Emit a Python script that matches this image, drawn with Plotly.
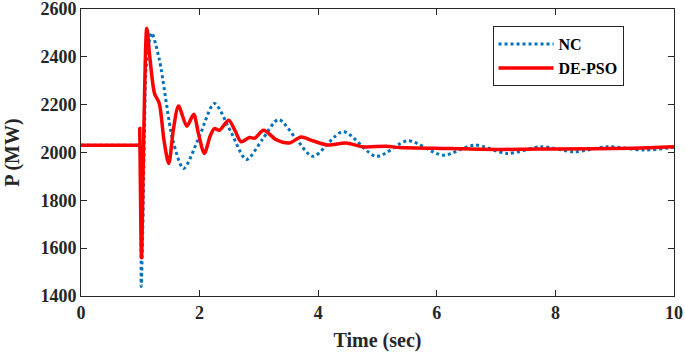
import plotly.graph_objects as go

# Time (sec) and P (MW)
nc_t = [0, 0.5, 0.95, 0.975, 0.99, 1.015, 1.04, 1.07, 1.10, 1.19, 1.32, 1.55, 1.73, 2.0, 2.25, 2.52, 2.79, 3.06,
        3.33, 3.62, 3.91, 4.42, 4.98, 5.51, 6.10, 6.64, 7.19, 7.76, 8.32, 8.88, 9.50, 10]
nc_p = [2030, 2030, 2030, 2030, 2030, 1440, 1661, 2080, 2359, 2500, 2390, 2050, 1933, 2070, 2205, 2090, 1971, 2055,
        2138, 2060, 1984, 2087, 1984, 2049, 1989, 2031, 1996, 2024, 2003, 2024, 2010, 2022]

de_t = [0, 0.5, 0.95, 0.975, 0.985, 0.99, 1.0, 1.02, 1.06, 1.11, 1.16, 1.24, 1.32, 1.40, 1.48, 1.56, 1.645, 1.785,
        1.90, 1.98, 2.08, 2.18, 2.25, 2.335, 2.49, 2.60, 2.70, 2.84, 2.93, 3.08, 3.29, 3.52, 3.71,
        3.91, 4.16, 4.47, 4.75, 5.15, 5.37, 6.21, 7.06, 8.0, 9.3, 10]
de_p = [2030, 2030, 2030, 2030, 2030, 2100, 1900, 1560, 2100, 2520, 2400, 2247, 2205, 2050, 1954, 2100, 2194, 2110,
        2160, 2080, 1996, 2070, 2100, 2093, 2135, 2090, 2045, 2063, 2060, 2093, 2054, 2040, 2065,
        2049, 2031, 2040, 2024, 2026, 2021, 2017, 2013, 2015, 2018, 2024]

x_ticks = [0, 2, 4, 6, 8, 10]
y_ticks = [1400, 1600, 1800, 2000, 2200, 2400, 2600]

font = "Liberation Serif"
ink = "#262626"
fig = go.Figure()
fig.add_trace(go.Scatter(x=nc_t, y=nc_p, mode="lines", name="NC",
                         line=dict(color="#0072BD", width=3, dash="dot", shape="spline", smoothing=0.8)))
fig.add_trace(go.Scatter(x=de_t, y=de_p, mode="lines", name="DE-PSO",
                         line=dict(color="#FF0000", width=3.5, shape="spline", smoothing=0.8)))

axis_common = dict(showline=True, linecolor=ink, linewidth=1, mirror="ticks",
                   ticks="inside", ticklen=6, tickcolor=ink, showgrid=False, zeroline=False,
                   automargin=False, ticklabeloverflow="allow",
                   tickfont=dict(family=font, size=18, color=ink, weight="bold"))
fig.update_xaxes(range=[0, 10], tickvals=x_ticks, ticktext=[str(v) for v in x_ticks],
                 title=dict(text="Time (sec)", font=dict(family=font, size=20, color=ink, weight="bold")),
                 **axis_common)
fig.update_yaxes(range=[1400, 2600], tickvals=y_ticks, ticktext=[str(v) for v in y_ticks],
                 title=dict(text="P (MW)", font=dict(family=font, size=20, color=ink, weight="bold")),
                 **axis_common)

fig.update_layout(
    width=685, height=352,
    margin=dict(l=81, r=11, t=9, b=56),
    plot_bgcolor="white", paper_bgcolor="white",
    font=dict(family=font, color=ink),
    legend=dict(x=0.694, y=0.94, xanchor="left", yanchor="top",
                bordercolor=ink, borderwidth=1, bgcolor="white",
                font=dict(family=font, size=16, color="black", weight="bold"), itemwidth=55,
                tracegroupgap=0),
    showlegend=True,
)
fig.write_html("out.html", config={"displayModeBar": False},
               post_script="document.body.style.margin='0';")
